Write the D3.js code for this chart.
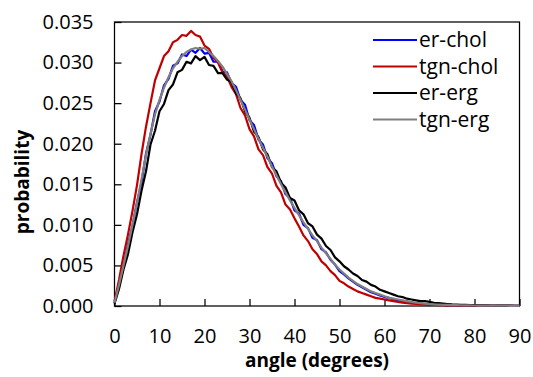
<!DOCTYPE html>
<html>
<head>
<meta charset="utf-8">
<script src="https://cdn.jsdelivr.net/npm/d3@7"></script>
<style>
  body { margin: 0; background: #fff; }
  text { font-family: 'Open Sans', sans-serif; }
</style>
</head>
<body>
<div id="chart"></div>
<script>
// angle bins (degrees)
var angles = d3.range(0, 91);

var seriesNames = ["er-chol", "tgn-chol", "er-erg", "tgn-erg"];
var seriesColors = ["#0000ff", "#c00000", "#000000", "#7f7f7f"];

var erChol = [
  .0004, .0027, .0049, .0076, .0099, .0128, .0152, .0188, .0211, .0240,
  .0252, .0272, .0280, .0296, .0299, .0310, .0308, .0316, .0312, .0318,
  .0311, .0312, .0301, .0301, .0289, .0288, .0275, .0270, .0254, .0248,
  .0229, .0223, .0205, .0199, .0182, .0176, .0160, .0154, .0138, .0133,
  .0118, .0114, .0100, .0096, .0084, .0081, .0070, .0066, .0057, .0051,
  .0043, .0039, .0034, .0030, .0026, .0023, .0020, .0017, .0015, .0013,
  .0011, .0010, .0008, .0007, .0006, .0005, .0004, .00035, .0003, .00025,
  .0002, .00018, .00015, .00013, .00011, .0001, .00008, .00007, .00006, .00005,
  .00005, .00004, .00004, .00003, .00003, .00003, .00002, .00002, .00002, .00002,
  .00002
];

var tgnChol = [
  .0006, .0032, .0062, .0088, .0117, .0149, .0187, .0221, .0250, .0278,
  .0293, .0308, .0314, .0325, .0328, .0334, .0333, .0339, .0334, .0332,
  .0321, .0317, .0306, .0300, .0288, .0283, .0270, .0261, .0244, .0235,
  .0218, .0209, .0193, .0186, .0171, .0163, .0148, .0140, .0125, .0119,
  .0108, .0098, .0087, .0080, .0070, .0064, .0055, .0050, .0043, .0038,
  .0031, .0028, .0024, .0021, .0018, .0016, .0014, .0012, .0010, .0009,
  .0008, .0007, .0006, .0005, .0004, .00035, .0003, .00025, .0002, .00018,
  .00015, .00013, .00011, .0001, .00008, .00007, .00006, .00005, .00005, .00004,
  .00004, .00003, .00003, .00003, .00002, .00002, .00002, .00002, .00002, .00001,
  .00001
];

var erErg = [
  .0003, .0021, .0045, .0064, .0091, .0113, .0142, .0166, .0199, .0216,
  .0240, .0249, .0266, .0273, .0288, .0291, .0301, .0299, .0308, .0303,
  .0307, .0297, .0296, .0287, .0287, .0279, .0276, .0262, .0256, .0240,
  .0232, .0215, .0208, .0193, .0187, .0171, .0166, .0152, .0146, .0133,
  .0130, .0118, .0113, .0102, .0098, .0088, .0083, .0074, .0069, .0060,
  .0055, .0049, .0045, .0040, .0037, .0032, .0030, .0026, .0024, .0020,
  .0018, .0016, .0014, .0012, .0011, .0009, .0008, .0007, .0006, .0006,
  .0005, .0004, .00035, .0003, .00025, .0002, .00018, .00015, .00013, .00011,
  .0001, .00009, .00008, .00007, .00006, .00005, .00005, .00004, .00004, .00003,
  .00003
];

var tgnErg = [
  .0004, .0026, .0050, .0074, .0100, .0127, .0156, .0186, .0212, .0236,
  .0254, .0269, .0282, .0293, .0301, .0308, .0313, .0316, .0318, .0317,
  .0318, .0313, .0308, .0302, .0295, .0286, .0277, .0266, .0254, .0242,
  .0230, .0218, .0206, .0195, .0184, .0172, .0161, .0150, .0140, .0130,
  .0121, .0112, .0103, .0095, .0087, .0080, .0072, .0065, .0058, .0051,
  .0045, .0040, .0035, .0031, .0027, .0024, .0021, .0018, .0016, .0014,
  .0012, .0010, .0009, .0008, .0007, .0006, .0005, .0004, .00035, .0003,
  .00025, .0002, .00018, .00015, .00013, .00011, .0001, .00009, .00008, .00007,
  .00006, .00005, .00005, .00004, .00004, .00003, .00003, .00003, .00002, .00002,
  .00002
];

var xTicks = [0, 10, 20, 30, 40, 50, 60, 70, 80, 90];
var yTicks = [0, 0.005, 0.010, 0.015, 0.020, 0.025, 0.030, 0.035];

var svgWidth = 533, svgHeight = 377;
var plotLeft = 114.5, plotRight = 519.5, plotTop = 22, plotBottom = 306;

var svg = d3.select("#chart").append("svg")
  .attr("width", svgWidth)
  .attr("height", svgHeight);

svg.append("rect")
  .attr("width", svgWidth).attr("height", svgHeight)
  .attr("fill", "#fff");

var x = d3.scaleLinear().domain([0, 90]).range([plotLeft, plotRight]);
var y = d3.scaleLinear().domain([0, 0.035]).range([plotBottom, plotTop]);

// y axis, ticks pointing inward
var yAxis = svg.append("g")
  .attr("transform", "translate(" + plotLeft + ",0)")
  .call(d3.axisLeft(y).tickValues(yTicks).tickFormat(d3.format(".3f"))
    .tickSizeInner(-7).tickSizeOuter(0).tickPadding(21));
yAxis.select(".domain").remove();
yAxis.selectAll("line").attr("stroke", "#000").attr("stroke-width", 1.25);
yAxis.selectAll("text")
  .attr("font-family", "'Open Sans', sans-serif")
  .attr("font-size", 20).attr("fill", "#000");

var xAxis = svg.append("g")
  .attr("transform", "translate(0," + plotBottom + ")")
  .call(d3.axisBottom(x).tickValues(xTicks)
    .tickSizeInner(-7).tickSizeOuter(0).tickPadding(23));
xAxis.select(".domain").remove();
xAxis.selectAll("line").attr("stroke", "#000").attr("stroke-width", 1.25);
xAxis.selectAll("text")
  .attr("font-family", "'Open Sans', sans-serif")
  .attr("font-size", 20).attr("fill", "#000");

// plot frame
svg.append("rect")
  .attr("x", plotLeft).attr("y", plotTop)
  .attr("width", plotRight - plotLeft).attr("height", plotBottom - plotTop)
  .attr("fill", "none")
  .attr("stroke", "#000")
  .attr("stroke-width", 1.25);

var allSeries = [erChol, tgnChol, erErg, tgnErg];

var line = d3.line()
  .x(function(d, i) { return x(angles[i]); })
  .y(function(d) { return y(d); });

svg.selectAll("path.series")
  .data(allSeries)
  .enter()
  .append("path")
    .classed("series", true)
    .attr("d", line)
    .attr("fill", "none")
    .attr("stroke", function(d, i) { return seriesColors[i]; })
    .attr("stroke-width", 2.2)
    .attr("stroke-linejoin", "round");

// legend
var legend = svg.selectAll("g.legend")
  .data(seriesNames)
  .enter()
  .append("g")
    .classed("legend", true)
    .attr("transform", function(d, i) { return "translate(373," + (40 + i * 26.5) + ")"; });

legend.append("line")
  .attr("x1", 0).attr("x2", 44)
  .attr("y1", 0).attr("y2", 0)
  .attr("stroke", function(d, i) { return seriesColors[i]; })
  .attr("stroke-width", 2);

legend.append("text")
  .attr("x", 46).attr("y", 7)
  .attr("font-size", 21)
  .attr("fill", "#000")
  .text(function(d) { return d; });

// axis titles
svg.append("text")
  .attr("x", (plotLeft + plotRight) / 2).attr("y", 367)
  .attr("text-anchor", "middle")
  .attr("font-size", 19).attr("font-weight", "bold")
  .text("angle (degrees)");

svg.append("text")
  .attr("transform", "translate(29,182) rotate(-90)")
  .attr("text-anchor", "middle")
  .attr("font-size", 19).attr("font-weight", "bold")
  .text("probability");
</script>
</body>
</html>
